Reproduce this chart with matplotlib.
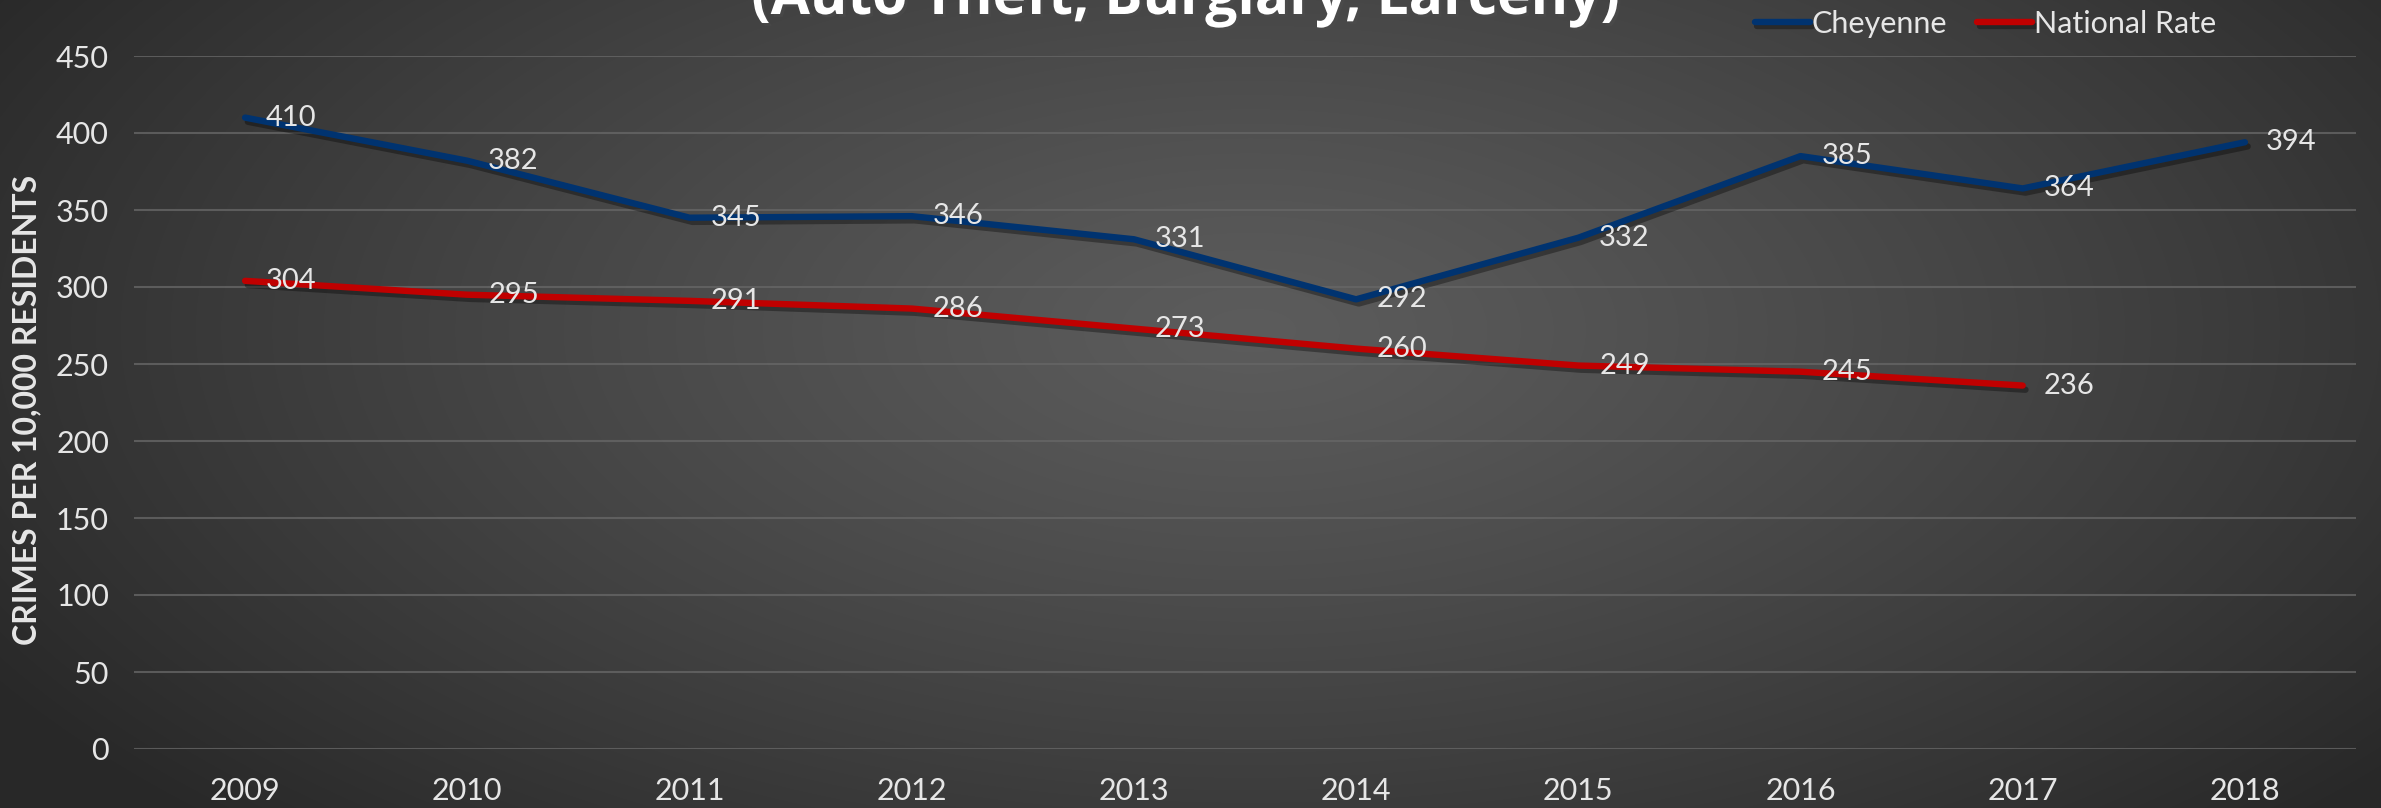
import numpy as np
import matplotlib
matplotlib.use("Agg")
import matplotlib.pyplot as plt
import matplotlib.patheffects as pe

# data
years = ['2009', '2010', '2011', '2012', '2013', '2014', '2015', '2016', '2017', '2018']
cheyenne = [410, 382, 345, 346, 331, 292, 332, 385, 364, 394]
national = [304, 295, 291, 286, 273, 260, 249, 245, 236]
yticks = [0, 50, 100, 150, 200, 250, 300, 350, 400, 450]

title = '(Auto Theft, Burglary, Larceny)'
ylabel = 'CRIMES PER 10,000 RESIDENTS'

plt.rcParams['font.family'] = ['Lato', 'DejaVu Sans']
txt = '#e6e6e6'

fig = plt.figure(figsize=(23.81, 8.08), dpi=100)

# radial gradient background
bg = fig.add_axes([0, 0, 1, 1])
yy, xx = np.mgrid[0:808, 0:2381]
d = np.sqrt(((xx - 1250) / 1450.0) ** 2 + ((yy - 330) / 700.0) ** 2)
d = np.clip(d, 0, 1)
shade = 0.36 - 0.20 * d ** 1.2
img = np.dstack([shade, shade, shade])
bg.imshow(img, aspect='auto', extent=[0, 1, 0, 1], origin='upper')
bg.axis('off')

ax = fig.add_axes([134 / 2381, 1 - 749 / 808, (2356 - 134) / 2381, (749 - 56) / 808])
ax.patch.set_alpha(0)

x = np.arange(len(years))
shadow = [pe.SimpleLineShadow(offset=(2, -3), shadow_color='black', alpha=0.35), pe.Normal()]
ax.plot(x, cheyenne, color='#003370', lw=4.6, solid_capstyle='round', label='Cheyenne',
        path_effects=shadow, zorder=3)
ax.plot(x[:len(national)], national, color='#c00000', lw=4.6, solid_capstyle='round',
        label='National Rate', path_effects=shadow, zorder=3)

for i, v in enumerate(cheyenne):
    ax.annotate(str(v), (x[i], v), xytext=(15, 0), textcoords='offset points',
                va='center', ha='left', color=txt, fontsize=21, zorder=4)
for i, v in enumerate(national):
    ax.annotate(str(v), (x[i], v), xytext=(15, 0), textcoords='offset points',
                va='center', ha='left', color=txt, fontsize=21, zorder=4)

ax.set_xlim(-0.5, len(years) - 0.5)
ax.set_ylim(0, 450)
ax.set_yticks(yticks)
ax.set_xticks(x)
ax.set_xticklabels(years)
ax.grid(axis='y', color='#666666', lw=1.5, alpha=0.8)
ax.set_axisbelow(True)
for s in ax.spines.values():
    s.set_visible(False)
ax.tick_params(length=0, colors=txt, labelsize=22)
ax.tick_params(axis='y', pad=18)
ax.tick_params(axis='x', pad=20)

fig.text(27 / 2381, 1 - 410 / 808, ylabel, rotation=90, ha='center', va='center',
         color=txt, fontsize=23, fontweight='bold')

fig.text(1186 / 2381, 1 - 14 / 808, title, ha='center', va='baseline', color='white',
         fontsize=41, fontweight='bold', family=['Open Sans', 'DejaVu Sans'],
         path_effects=[pe.withSimplePatchShadow(offset=(2, -2), alpha=0.5)])

leg = fig.legend(loc='center right', bbox_to_anchor=(2228 / 2381, 1 - 24 / 808), ncol=2,
                 frameon=False, fontsize=22, labelcolor=txt, handlelength=1.8,
                 handletextpad=0.05, columnspacing=1.0, borderaxespad=0.0)

fig.savefig('out.png', dpi=100)
